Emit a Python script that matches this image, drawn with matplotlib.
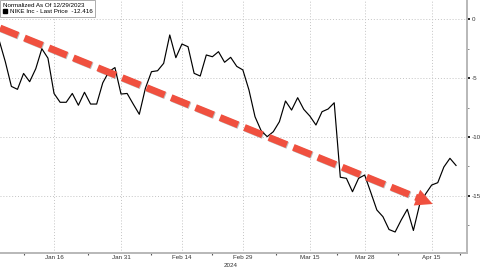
import numpy as np
import pandas as pd
import matplotlib
matplotlib.use("Agg")
import matplotlib.pyplot as plt
from matplotlib.lines import Line2D
from matplotlib.patches import Polygon
from matplotlib.ticker import FixedLocator, MultipleLocator
import matplotlib.patheffects as pe

# ── Data: NIKE % change, normalized to 12/29/2023 ──
HOLIDAYS = ["2024-01-15", "2024-02-19", "2024-03-29"]
trading_days = pd.bdate_range("2024-01-02", "2024-04-19", freq="C", holidays=HOLIDAYS)

nike_pct = [
    -1.8, -3.6, -5.7, -5.95, -4.6, -5.3, -4.2, -2.5, -3.3, -6.3,
    -7.05, -7.05, -6.3, -7.3, -6.2, -7.2, -7.2, -5.4, -4.45, -4.1,
    -6.35, -6.3, -7.2, -8.07, -5.86, -4.45, -4.37, -3.74, -1.33, -3.26,
    -2.1, -2.33, -4.59, -4.82, -3.03, -3.18, -2.75, -3.65, -3.23, -4.0,
    -4.3, -6.0, -8.28, -9.46, -9.97, -9.55, -8.7, -6.94, -7.71, -6.66,
    -7.65, -8.22, -8.98, -7.85, -7.62, -7.09, -13.42, -13.51, -14.65, -13.51,
    -13.23, -14.7, -16.2, -16.77, -17.86, -18.07, -17.05, -16.14, -17.94, -15.78,
    -14.84, -14.08, -13.88, -12.55, -11.81, -12.416,
]

tick_dates = ["2024-01-16", "2024-01-31", "2024-02-14", "2024-02-29",
              "2024-03-15", "2024-03-28", "2024-04-15"]
tick_labels = ["Jan 16", "Jan 31", "Feb 14", "Feb 29", "Mar 15", "Mar 28", "Apr 15"]
y_ticks = [0, -5, -10, -15]

LEGEND_TITLE = "Normalized As Of 12/29/2023"
SERIES_LABEL = "NIKE Inc - Last Price  -12.416"
YEAR_LABEL = "2024"

# ── Style ──
RED = "#f0503f"
GRID = "#c4c4c4"
SPINE = "#b8b8b8"
TXT = "#333333"
FS = 4.5
W, H = 485, 269

plt.rcParams["font.family"] = ["Liberation Sans", "DejaVu Sans"]

fig = plt.figure(figsize=(W / 100, H / 100), dpi=100, facecolor="white")
ax = fig.add_axes([0, 15.7 / H, 467 / W, 253.3 / H])

xs = np.arange(len(trading_days))
ax.plot(xs, nike_pct, color="black", lw=0.85, zorder=3)

# x axis: trading-day positions
major_pos = [trading_days.get_loc(pd.Timestamp(d)) for d in tick_dates]
minor_pos = [(a + b) / 2 for a, b in zip(major_pos[:-1], major_pos[1:])]
minor_pos = [major_pos[0] - 5] + minor_pos + [major_pos[-1] + 4.7]
ax.xaxis.set_major_locator(FixedLocator(major_pos))
ax.set_xticklabels(tick_labels)
ax.xaxis.set_minor_locator(FixedLocator(minor_pos))
ax.set_xlim(0.13, 76.8)

# y axis on the right
ax.yaxis.tick_right()
ax.set_yticks(y_ticks)
ax.set_yticklabels([f"{v:g}" for v in y_ticks])
ax.yaxis.set_minor_locator(MultipleLocator(2.5))
ax.set_ylim(-19.88, 1.64)

ax.grid(True, which="major", linestyle=(0, (1, 2)), color=GRID, lw=0.7)
ax.tick_params(axis="x", which="major", length=0, labelsize=FS, labelcolor=TXT, pad=1.3)
ax.tick_params(axis="x", which="minor", length=1.5, width=0.8, color="#555555")
ax.tick_params(axis="y", which="major", length=2, width=1.2, color="black",
               labelsize=FS, labelcolor=TXT, pad=1.5)
ax.tick_params(axis="y", which="minor", length=1.5, width=0.6, color="#777777")

for side in ["top", "left"]:
    ax.spines[side].set_visible(False)
for side in ["bottom", "right"]:
    ax.spines[side].set_color(SPINE)
    ax.spines[side].set_linewidth(1.4)


def px(x, y):
    return x / W, 1 - y / H


# year label under the date ticks
fig.text(*px(231, 265.3), YEAR_LABEL, fontsize=FS, color=TXT, ha="center", va="center")

# legend box
handle = Line2D([], [], marker="s", color="black", lw=0, markersize=3.2)
leg = ax.legend([handle], [SERIES_LABEL], title=LEGEND_TITLE, loc="upper left",
                bbox_to_anchor=(0, 1), borderaxespad=0, fontsize=FS,
                title_fontsize=FS, alignment="left", fancybox=False,
                framealpha=1, edgecolor="#a0a0a0", handlelength=0.8,
                handletextpad=0.3, borderpad=0.45, labelspacing=0.2)
leg.get_frame().set_linewidth(0.6)
leg.set_zorder(5)

# red dashed trend arrow (annotation drawn in figure pixels)
start = np.array([0.0, 28.0])
tip = np.array([432.7, 204.0])
u = (tip - start) / np.linalg.norm(tip - start)
n = np.array([-u[1], u[0]])
base = tip - 17 * u
shadow = [pe.SimpleLineShadow(offset=(0.6, -0.6), alpha=0.25), pe.Normal()]
x0, y0 = px(*start)
x1, y1 = px(*(base + 1.5 * u))
fig.add_artist(Line2D([x0, x1], [y0, y1], transform=fig.transFigure, color=RED,
                      lw=5.0, dashes=(2.8, 1.0), solid_capstyle="butt",
                      dash_capstyle="butt", path_effects=shadow, zorder=6))
head = [px(*tip), px(*(base + 8.5 * n)), px(*(base - 8.5 * n))]
fig.add_artist(Polygon(head, closed=True, transform=fig.transFigure,
                       facecolor=RED, edgecolor="none", zorder=6))

fig.savefig("out.png", dpi=100, facecolor="white")
